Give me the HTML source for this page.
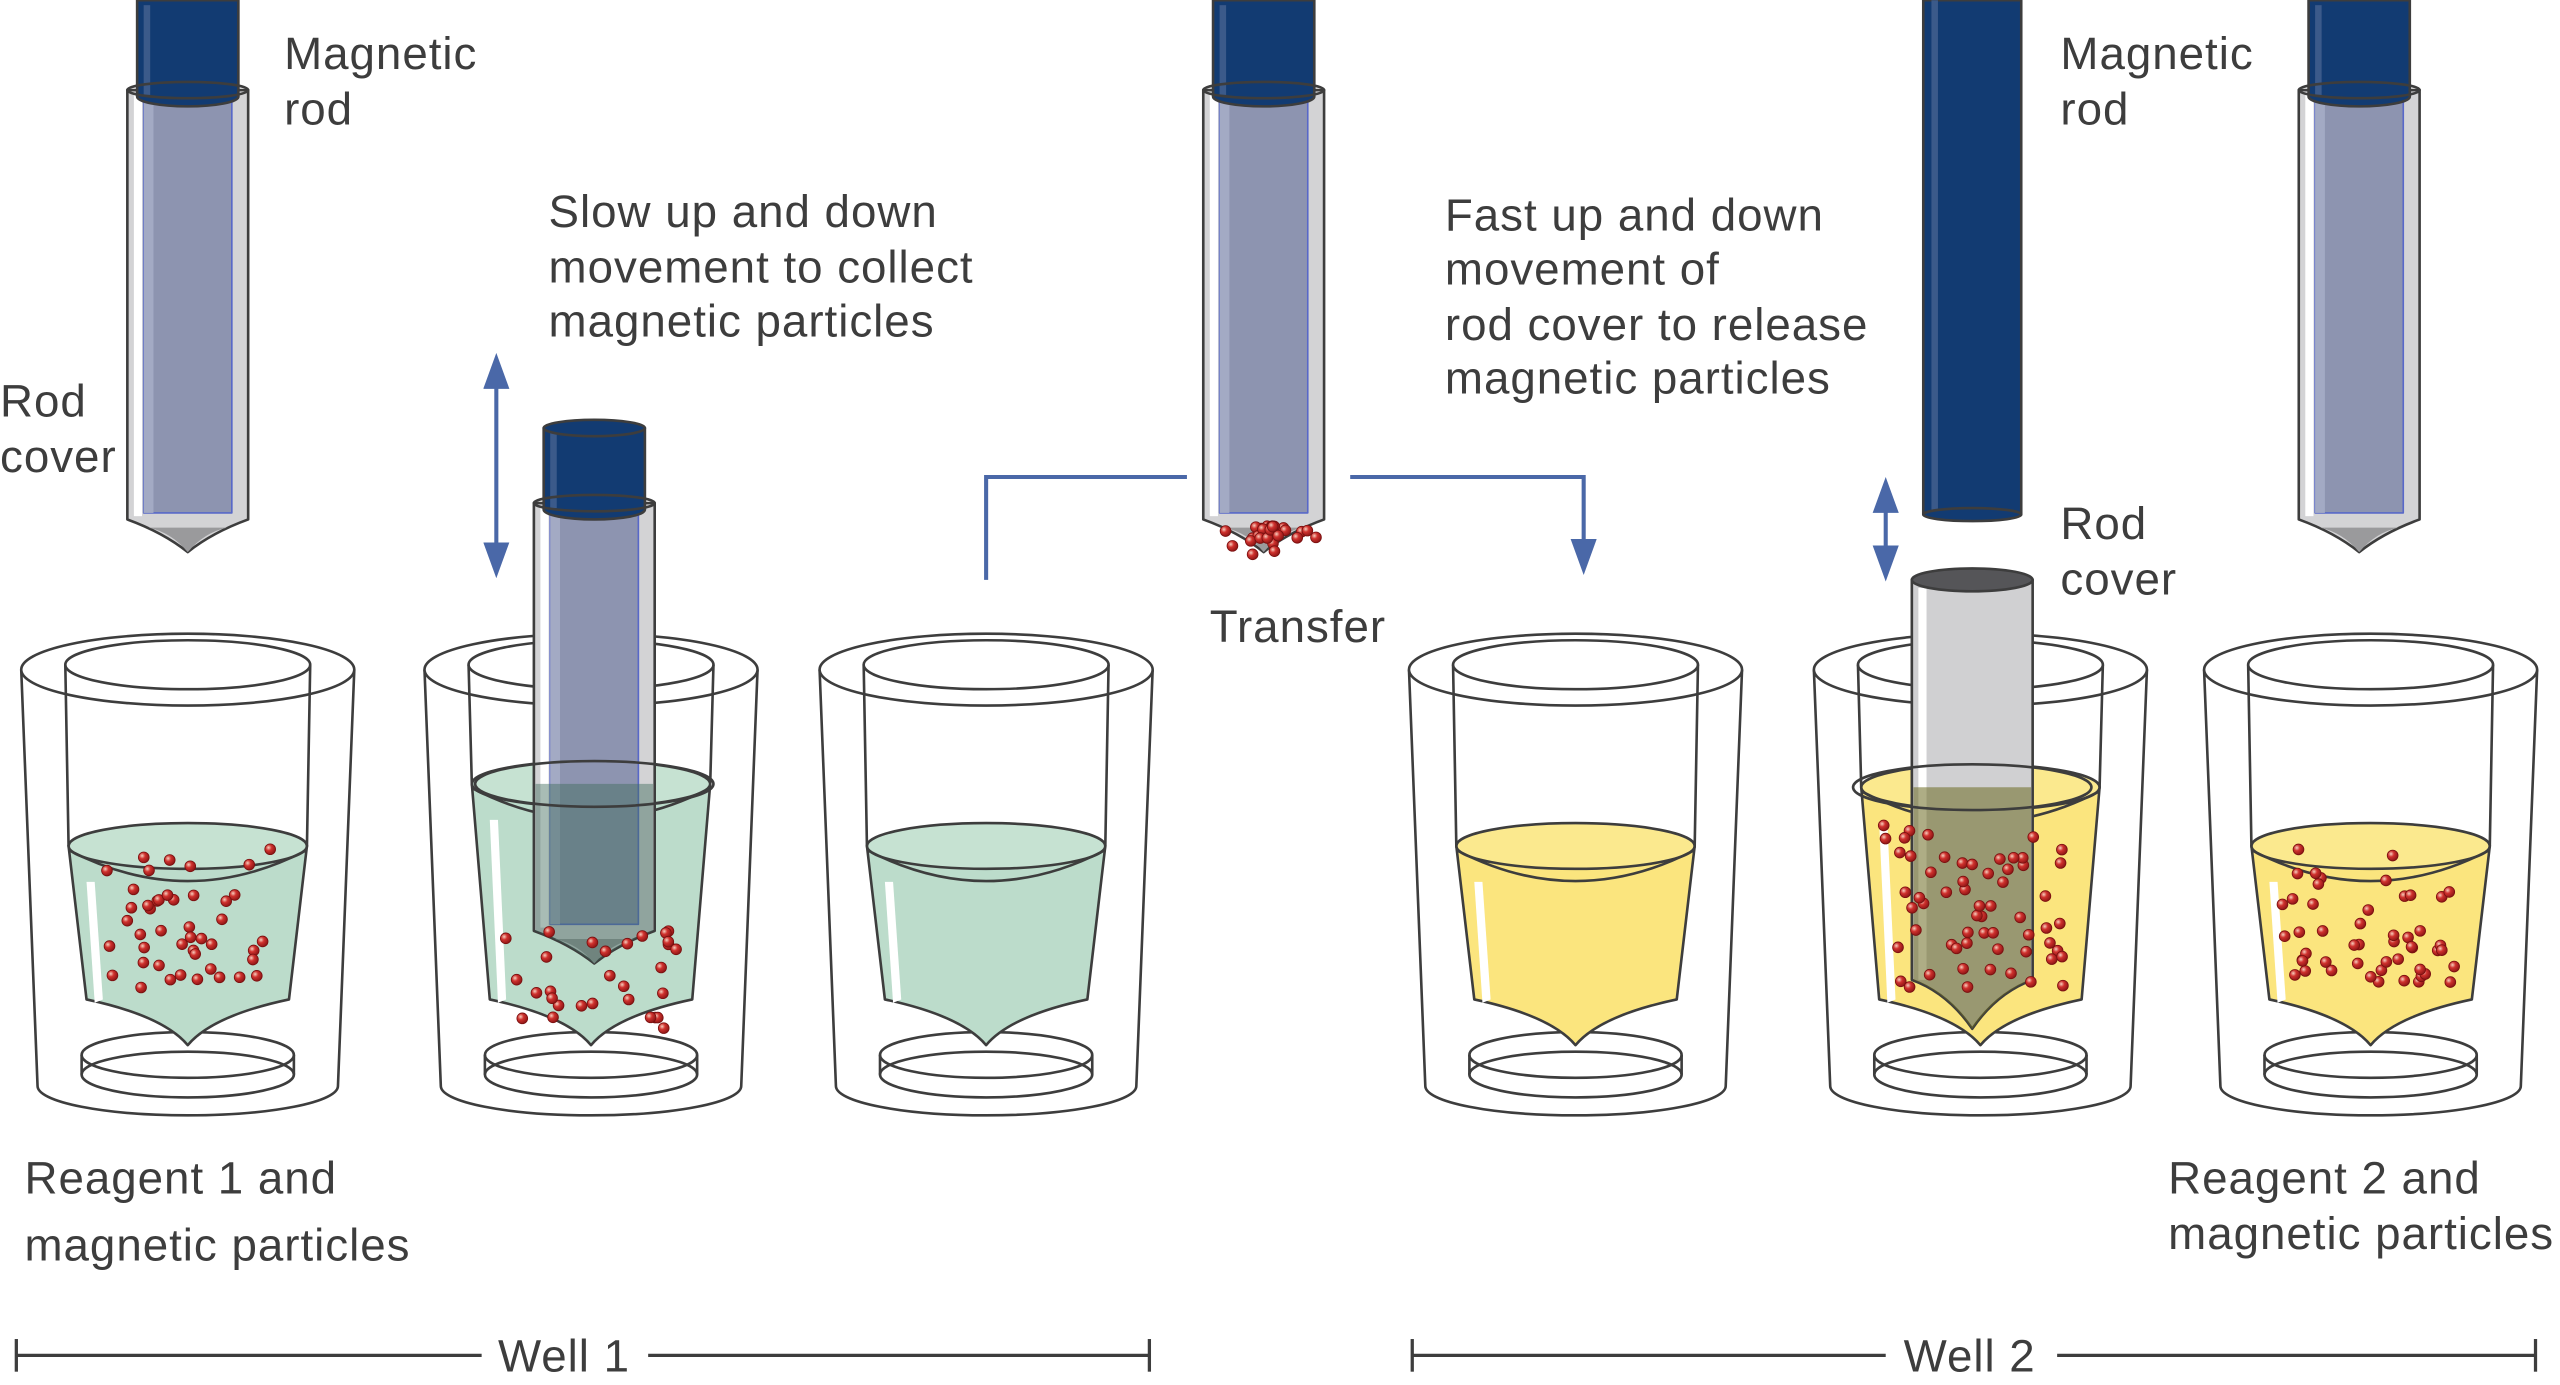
<!DOCTYPE html>
<html><head><meta charset="utf-8"><style>
html,body{margin:0;padding:0;background:#fff;width:2560px;height:1385px;overflow:hidden}
svg{display:block}
text{font-family:"Liberation Sans",sans-serif;fill:#3d3d3d;font-size:28px;letter-spacing:0.6px}
</style></head><body>
<svg id="s" width="2560" height="1385" viewBox="0 0 1568 848" xmlns="http://www.w3.org/2000/svg">
<defs>
<radialGradient id="bead" cx="0.35" cy="0.35" r="0.7"><stop offset="0" stop-color="#f6d0c0"/><stop offset="0.4" stop-color="#d0322e"/><stop offset="1" stop-color="#8a1414"/></radialGradient>
<marker id="ah" markerWidth="22" markerHeight="16" refX="18" refY="8" orient="auto-start-reverse" markerUnits="userSpaceOnUse" viewBox="0 0 22 16"><path d="M0,0 L22,8 L0,16z" fill="#4a68a8"/></marker>
</defs>
<g id="root" stroke-linejoin="round"></g>
<g>
<text x="174" y="42">Magnetic</text><text x="174" y="76">rod</text>
<text x="0" y="255">Rod</text><text x="0" y="289">cover</text>
<text x="336" y="139">Slow up and down</text><text x="336" y="173">movement to collect</text><text x="336" y="206">magnetic particles</text>
<text x="741" y="393">Transfer</text>
<text x="885" y="141">Fast up and down</text><text x="885" y="174">movement of</text><text x="885" y="208">rod cover to release</text><text x="885" y="241">magnetic particles</text>
<text x="1262" y="42">Magnetic</text><text x="1262" y="76">rod</text>
<text x="1262" y="330">Rod</text><text x="1262" y="364">cover</text>
<text x="15" y="731">Reagent 1 and</text><text x="15" y="772">magnetic particles</text>
<text x="1328" y="731">Reagent 2 and</text><text x="1328" y="765">magnetic particles</text>
<text x="305" y="840">Well 1</text><text x="1166" y="840">Well 2</text>
</g>
<g stroke="#3d3d3d" stroke-width="2">
<line x1="10" y1="830" x2="295" y2="830"/><line x1="10" y1="820" x2="10" y2="840"/>
<line x1="397" y1="830" x2="704" y2="830"/><line x1="704" y1="820" x2="704" y2="840"/>
<line x1="865" y1="830" x2="1155" y2="830"/><line x1="865" y1="820" x2="865" y2="840"/>
<line x1="1260" y1="830" x2="1553" y2="830"/><line x1="1553" y1="820" x2="1553" y2="840"/>
</g>
<g stroke="#4a68a8" stroke-width="2.5" fill="none">
<line x1="304" y1="220" x2="304" y2="350" marker-start="url(#ah)" marker-end="url(#ah)"/>
<polyline points="604,355 604,292 727,292"/>
<polyline points="827,292 970,292 970,348" marker-end="url(#ah)"/>
<line x1="1155" y1="296" x2="1155" y2="352" marker-start="url(#ah)" marker-end="url(#ah)"/>
</g>
</svg>
<script>
var NS="http://www.w3.org/2000/svg",root=document.getElementById("root");
function el(t,a,p){var e=document.createElementNS(NS,t);for(var k in a)e.setAttribute(k,a[k]);(p||root).appendChild(e);return e;}
var seed=7;function rnd(){seed=(seed*16807)%2147483647;return seed/2147483647;}
function bead(x,y,p){el("circle",{cx:x,cy:y,r:3.3,fill:"url(#bead)",stroke:"#7a1010","stroke-width":0.5},p);}
var S={stroke:"#3d3d3d","stroke-width":1.6};
function beaker(cx,lt,col,topcol){
 var g=el("g",{transform:"translate("+cx+",0)"});
 el("path",Object.assign({d:"M-102,410 L-92,665 A92,18 0 0 0 92,665 L102,410",fill:"#fff"},S),g);
 el("ellipse",Object.assign({cx:0,cy:410,rx:102,ry:22,fill:"#fff"},S),g);
 el("ellipse",Object.assign({cx:0,cy:658,rx:65,ry:14,fill:"none"},S),g);
 el("ellipse",Object.assign({cx:0,cy:646,rx:65,ry:14,fill:"none"},S),g);
 el("line",Object.assign({x1:-65,y1:646,x2:-65,y2:658},S),g);
 el("line",Object.assign({x1:65,y1:646,x2:65,y2:658},S),g);
 el("path",Object.assign({d:"M-75,407 L-73,"+lt+" M75,407 L73,"+lt,fill:"none"},S),g);
 el("path",Object.assign({d:"M-73,"+lt+" L-62,612 Q-15,622 0,640 Q15,622 62,612 L73,"+lt+" Z",fill:col},S),g);
 el("ellipse",Object.assign({cx:0,cy:lt,rx:73,ry:14,fill:topcol},S),g);
 el("path",Object.assign({d:"M-72,"+(lt+3)+" Q0,"+(lt+40)+" 72,"+(lt+3),fill:"none"},S),g);
 el("path",{d:"M-62,"+(lt+22)+" L-57,"+(lt+22)+" L-52,612 L-57,614 Z",fill:"#fff"},g);
 el("ellipse",Object.assign({cx:0,cy:407,rx:75,ry:15,fill:"none"},S),g);
 return g;
}
function beads(cx,n,x0,x1,y0,y1){for(var i=0;i<n;i++){var y=y0+rnd()*(y1-y0);var w=(x1-x0)/2;var f=1-0.15*(y-y0)/(y1-y0);bead(cx+(-w+rnd()*2*w)*f,y);}}
function rod(cx,top,cover,len,cap){
 var g=el("g",{transform:"translate("+cx+",0)"});
 var cb=cover+len;
 el("path",Object.assign({d:"M-37,"+cover+" L-37,"+cb+" Q-15,"+(cb+8)+" 0,"+(cb+20)+" Q15,"+(cb+8)+" 37,"+cb+" L37,"+cover+" Z",fill:"#d3d3d5"},S),g);
 el("path",{d:"M-24,"+(cb+5)+" Q-10,"+(cb+8)+" 0,"+(cb+20)+" Q10,"+(cb+8)+" 24,"+(cb+5)+" Z",fill:"#9a9a9c"},g);
 el("rect",{x:-33,y:cover+3,width:5,height:len-5,fill:"#fff"},g);
 if(cap){
 el("rect",{x:-27,y:cover+4,width:54,height:len-8,fill:"#8d94b0",stroke:"#5868c8","stroke-width":1},g);
 el("rect",{x:-27,y:cover+4,width:6,height:len-8,fill:"#a3aac4"},g);
 el("path",Object.assign({d:"M-31,"+top+" L-31,"+(cover+4)+" A31,6 0 0 0 31,"+(cover+4)+" L31,"+top+" Z",fill:"#123b72"},S),g);
 el("rect",{x:-27,y:top+3,width:4,height:cover-top,fill:"#3b5a8a"},g);
 el("ellipse",Object.assign({cx:0,cy:cover,rx:37,ry:5,fill:"none"},S),g);
 if(top>0)el("ellipse",Object.assign({cx:0,cy:top,rx:31,ry:5,fill:"#123b72"},S),g);
 }
 return g;
}
beaker(115,518,"#bcdccb","#c6e2d2");
beaker(362,480,"#bcdccb","#c6e2d2");
beaker(604,518,"#bcdccb","#c6e2d2");
beaker(965,518,"#fbe57e","#fbe98e");
beaker(1213,482,"#fbe57e","#fbe98e");
beaker(1452,518,"#fbe57e","#fbe98e");
rod(115,0,55,263,true);
var r2=rod(364,262,308,262,true);
el("path",{d:"M-36,480 L-36,570 Q-15,578 0,590 Q15,578 36,570 L36,480 Z",fill:"#3e6a5a","fill-opacity":0.45},r2);
el("ellipse",{cx:364,cy:480,rx:73,ry:14,fill:"none",stroke:"#3d3d3d","stroke-width":1.6});
rod(774,0,55,263,true);
rod(1445,0,55,263,true);
el("rect",{x:1178,y:0,width:60,height:315,fill:"#123b72",stroke:"#3d3d3d","stroke-width":1.6});
el("rect",{x:1183,y:0,width:4,height:312,fill:"#3b5a8a"});
el("ellipse",{cx:1208,cy:315,rx:30,ry:4,fill:"#123b72",stroke:"#3d3d3d","stroke-width":1.6});
var g5=el("g",{transform:"translate(1208,0)"});
el("path",Object.assign({d:"M-37,355 L-37,600 Q-15,608 0,630 Q15,608 37,600 L37,355 Z",fill:"#d0d0d2"},S),g5);
el("rect",{x:-33,y:360,width:5,height:240,fill:"#fff"},g5);
el("path",{d:"M-36,482 L-36,600 Q-15,608 0,630 Q15,608 36,600 L36,482 Z",fill:"#6c6a20","fill-opacity":0.55},g5);
el("ellipse",Object.assign({cx:0,cy:355,rx:37,ry:7,fill:"#555558"},S),g5);
el("ellipse",Object.assign({cx:0,cy:482,rx:73,ry:14,fill:"none"},S),g5);
beads(115,45,-60,60,520,605);
beads(364,30,-55,55,570,630);
beads(1213,60,-60,60,505,605);
beads(1452,50,-60,60,520,605);
for(var i=0;i<28;i++){var a=rnd()*Math.PI,r=rnd()*32;bead(778+Math.cos(a)*r,322+Math.sin(a)*r*0.6);}
</script>
</body></html>
